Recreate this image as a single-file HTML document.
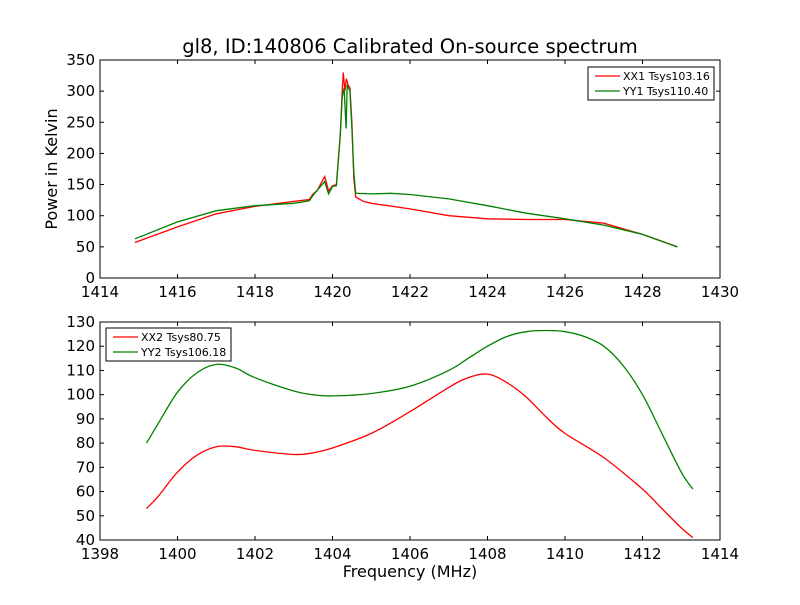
<!DOCTYPE html>
<html><head><meta charset="utf-8"><style>
body{margin:0;background:#fff}
svg text{font-family:"DejaVu Sans","Liberation Sans",sans-serif;fill:#000}
</style></head><body>
<svg id="c" width="800" height="600" viewBox="0 0 800 600">
<rect width="800" height="600" fill="#fff"/>
<text x="410" y="53" font-size="19.5" text-anchor="middle">gl8, ID:140806 Calibrated On-source spectrum</text>
<text x="57" y="169" font-size="16" text-anchor="middle" transform="rotate(-90 57 169)">Power in Kelvin</text>
<text x="410" y="577" font-size="16" text-anchor="middle">Frequency (MHz)</text>
<g id="g"></g>
</svg>
<script>
const topXX1=[[1414.9,57],[1416,82],[1417,103],[1418,115],[1419,123],[1419.4,126],[1419.5,135],[1419.6,140],[1419.8,163],[1419.9,140],[1420,148],[1420.1,150],[1420.2,230],[1420.25,300],[1420.28,330],[1420.32,300],[1420.36,320],[1420.4,310],[1420.45,305],[1420.5,250],[1420.55,160],[1420.6,130],[1420.8,123],[1421,120],[1422,111],[1423,100],[1424,95],[1425,94],[1426,94],[1427,88],[1428,70],[1428.9,50]];
const topYY1=[[1414.9,63],[1416,90],[1417,108],[1418,116],[1419,120],[1419.4,124],[1419.5,133],[1419.8,155],[1419.9,135],[1420,147],[1420.1,148],[1420.2,230],[1420.25,290],[1420.3,305],[1420.35,240],[1420.38,310],[1420.45,300],[1420.5,240],[1420.55,170],[1420.6,136],[1421,135],[1421.5,136],[1422,134],[1423,127],[1424,116],[1425,104],[1426,95],[1427,85],[1428,70],[1428.9,50]];
const botXX2=[[1399.2,53],[1399.5,58],[1400,68],[1400.5,75],[1401,78.5],[1401.5,78.5],[1402,77],[1403,75.3],[1403.5,76],[1404,78],[1405,84],[1406,93],[1407,103],[1407.5,107],[1408,108.5],[1408.5,105],[1409,99],[1409.5,91],[1410,84],[1411,74],[1412,61],[1412.5,53],[1413,45],[1413.3,41]];
const botYY2=[[1399.2,80],[1399.5,88],[1400,101],[1400.5,109],[1401,112.5],[1401.5,111],[1402,107],[1403,101.5],[1403.5,100],[1404,99.5],[1405,100.5],[1406,103.5],[1407,110],[1407.5,115],[1408,120],[1408.5,124],[1409,126],[1409.5,126.5],[1410,126],[1410.5,124],[1411,120],[1411.5,112],[1412,100],[1412.5,84],[1413,68],[1413.3,61]];
const topXTicks=[1414,1416,1418,1420,1422,1424,1426,1428,1430];
const topYTicks=[0,50,100,150,200,250,300,350];
const botXTicks=[1398,1400,1402,1404,1406,1408,1410,1412,1414];
const botYTicks=[40,50,60,70,80,90,100,110,120,130];
const NS='http://www.w3.org/2000/svg';
const g=document.getElementById('g');
function mk(t,a,p){const e=document.createElementNS(NS,t);for(const k in a)e.setAttribute(k,a[k]);(p||g).appendChild(e);return e;}
function smoothPath(P){
  let d='M'+P[0][0].toFixed(1)+','+P[0][1].toFixed(1);
  for(let i=0;i<P.length-1;i++){
    const p0=P[i-1]||P[i],p1=P[i],p2=P[i+1],p3=P[i+2]||p2;
    const c1=[p1[0]+(p2[0]-p0[0])/6,p1[1]+(p2[1]-p0[1])/6];
    const c2=[p2[0]-(p3[0]-p1[0])/6,p2[1]-(p3[1]-p1[1])/6];
    d+=' C'+c1.map(v=>v.toFixed(1))+' '+c2.map(v=>v.toFixed(1))+' '+p2.map(v=>v.toFixed(1));
  }
  return d;
}
function panel(name,L,T,R,B,xd,yd,xt,yt,series,leg,smooth){
  const sx=v=>L+(v-xd[0])/(xd[1]-xd[0])*(R-L);
  const sy=v=>B-(v-yd[0])/(yd[1]-yd[0])*(B-T);
  const grp=mk('g',{});
  
  
  series.forEach(s=>{
    const pts=s.d.map(q=>[sx(q[0]),sy(q[1])]);
    const p=smooth?mk('path',{d:smoothPath(pts),fill:'none',stroke:s.c,'stroke-width':1.3},grp)
      :mk('polyline',{points:pts.map(q=>q[0].toFixed(1)+','+q[1].toFixed(1)).join(' '),fill:'none',stroke:s.c,'stroke-width':1.3},grp);
    
    
  });
  const fr=mk('rect',{x:L,y:T,width:R-L,height:B-T,fill:'none',stroke:'#000','stroke-width':1},grp);
  
  
  xt.forEach(v=>{const x=sx(v);
    mk('line',{x1:x,x2:x,y1:B,y2:B-4,stroke:'#000'},grp);mk('line',{x1:x,x2:x,y1:T,y2:T+4,stroke:'#000'},grp);
    const t=mk('text',{x:x,y:B+19,'font-size':15,'text-anchor':'middle'},grp);t.textContent=v;
    
    });
  yt.forEach(v=>{const y=sy(v);
    mk('line',{x1:L,x2:L+4,y1:y,y2:y,stroke:'#000'},grp);mk('line',{x1:R,x2:R-4,y1:y,y2:y,stroke:'#000'},grp);
    const t=mk('text',{x:L-5,y:y+5,'font-size':15,'text-anchor':'end'},grp);t.textContent=v;
    
    });
  const lg=mk('g',{},grp);
  
  
  mk('rect',{x:leg.x,y:leg.y,width:leg.w,height:33,fill:'#fff',stroke:'#000'},lg);
  series.forEach((s,i)=>{const y=leg.y+9+i*15;
    mk('line',{x1:leg.x+7,x2:leg.x+32,y1:y,y2:y,stroke:s.c,'stroke-width':1.3},lg);
    const t=mk('text',{x:leg.x+35,y:y+4,'font-size':11},lg);t.textContent=s.label;
    
    });
}
panel('top-panel',100,60,720,278,[1414,1430],[0,350],topXTicks,topYTicks,
 [{d:topXX1,c:'#ff0000',n:'series-xx1',label:'XX1 Tsys103.16'},{d:topYY1,c:'#008000',n:'series-yy1',label:'YY1 Tsys110.40'}],{x:588,y:67,w:126},false);
panel('bottom-panel',100,322,720,540,[1398,1414],[40,130],botXTicks,botYTicks,
 [{d:botXX2,c:'#ff0000',n:'series-xx2',label:'XX2 Tsys80.75'},{d:botYY2,c:'#008000',n:'series-yy2',label:'YY2 Tsys106.18'}],{x:106,y:328,w:125},true);
</script>
</body></html>
